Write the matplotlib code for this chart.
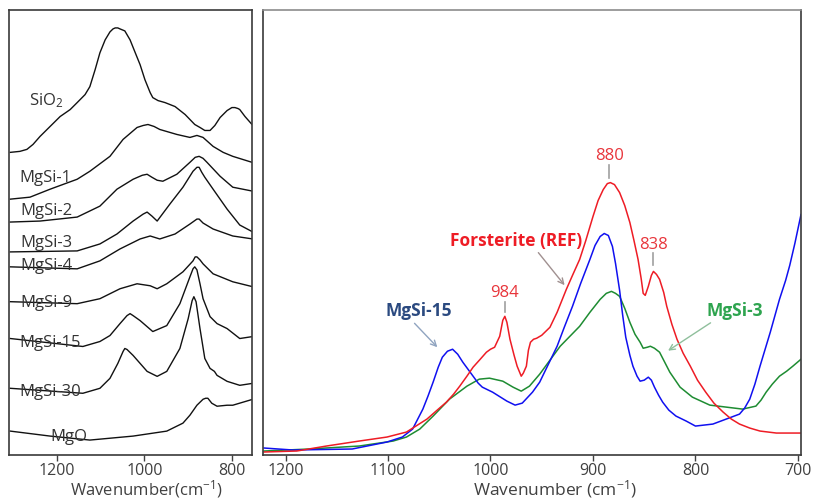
import numpy as np
import matplotlib
matplotlib.use('Agg')
import matplotlib.pyplot as plt

plt.rcParams['font.family'] = ['Open Sans', 'DejaVu Sans']
plt.rcParams['mathtext.default'] = 'regular'

# ---------------- left panel: stacked spectra (wavenumber, offset absorbance) ----------------
sio2_x = [1307, 1285, 1269, 1255, 1239, 1216, 1193, 1170, 1154, 1136, 1125, 1113, 1102, 1090, 1079,
          1072, 1067, 1061, 1056, 1045, 1033, 1022, 1010, 999, 987, 981, 969, 953, 930, 907, 885, 873,
          862, 850, 839, 827, 811, 800, 793, 786, 782, 770, 754]
sio2_y = [304, 305, 307, 312, 320, 330, 340, 347, 354, 362, 370, 387, 404, 417, 425,
          428, 429, 429, 428, 426, 417, 405, 392, 377, 364, 359, 356, 354, 350, 342, 332, 329,
          326, 326, 331, 339, 346, 349, 349, 348, 347, 340, 332]

mgsi1_x = [1307, 1262, 1216, 1154, 1125, 1079, 1049, 1017, 1003, 992, 978, 965, 926, 896, 880, 866,
           843, 820, 798, 754]
mgsi1_y = [257, 259, 267, 277, 285, 300, 317, 329, 331, 332, 330, 327, 322, 319, 321, 319,
           310, 304, 300, 294]

mgsi2_x = [1307, 1239, 1154, 1102, 1063, 1026, 1005, 994, 983, 971, 958, 926, 896, 884, 875, 866,
           857, 827, 798, 752]
mgsi2_y = [234, 235, 239, 250, 267, 277, 281, 282, 279, 276, 275, 282, 294, 299, 300, 298,
           294, 280, 269, 265]

mgsi3_x = [1307, 1154, 1102, 1063, 1026, 1003, 994, 983, 971, 942, 912, 889, 880, 875, 869, 862,
           843, 811, 782, 752]
mgsi3_y = [204, 205, 212, 222, 235, 242, 244, 240, 235, 252, 269, 285, 289, 289, 284, 279,
           267, 247, 231, 224]

mgsi4_x = [1307, 1154, 1102, 1056, 1010, 987, 965, 930, 896, 880, 875, 866, 843, 798, 752]
mgsi4_y = [189, 187, 195, 207, 217, 220, 217, 222, 232, 237, 237, 233, 227, 220, 217]

mgsi9_x = [1307, 1154, 1102, 1056, 1017, 987, 971, 949, 912, 889, 884, 880, 873, 866, 843, 798, 752]
mgsi9_y = [154, 152, 157, 167, 172, 170, 167, 172, 184, 195, 199, 199, 196, 192, 182, 174, 169]

mgsi15_x = [1307, 1141, 1102, 1079, 1056, 1040, 1033, 1026, 1010, 981, 949, 919, 896, 889, 885, 880,
            873, 866, 850, 834, 811, 782, 752]
mgsi15_y = [117, 109, 114, 120, 132, 140, 142, 140, 135, 124, 130, 152, 179, 187, 189, 186,
            172, 157, 139, 132, 127, 117, 119]

mgsi30_x = [1307, 1141, 1102, 1079, 1061, 1049, 1045, 1040, 1026, 994, 971, 949, 919, 900, 891, 887,
            882, 873, 862, 850, 840, 834, 811, 782, 752]
mgsi30_y = [67, 62, 67, 77, 92, 104, 107, 106, 100, 84, 79, 84, 107, 137, 155, 159,
            154, 127, 97, 87, 84, 80, 74, 70, 72]

mgo_x = [1307, 1216, 1125, 1026, 949, 912, 896, 880, 866, 860, 855, 846, 834, 811, 798, 752]
mgo_y = [24, 19, 15, 19, 24, 32, 40, 50, 56, 57, 57, 52, 49, 50, 50, 56]

left_series = [(sio2_x, sio2_y), (mgsi1_x, mgsi1_y), (mgsi2_x, mgsi2_y), (mgsi3_x, mgsi3_y),
               (mgsi4_x, mgsi4_y), (mgsi9_x, mgsi9_y), (mgsi15_x, mgsi15_y), (mgsi30_x, mgsi30_y),
               (mgo_x, mgo_y)]
left_labels = ['SiO$_2$', 'MgSi-1', 'MgSi-2', 'MgSi-3', 'MgSi-4', 'MgSi-9', 'MgSi-15', 'MgSi-30', 'MgO']
left_label_x = [1264, 1287, 1285, 1285, 1285, 1285, 1287, 1287, 1216]
left_label_y = [351, 274, 241, 209, 186, 149, 108, 59, 14]
left_ticks = [1200, 1000, 800]

# ---------------- right panel: overlay of three spectra ----------------
red_x = [1221, 1189, 1160, 1128, 1101, 1082, 1062, 1052, 1043, 1036, 1030, 1023, 1017, 1010, 1004,
         1000, 996, 991, 988, 986, 984, 981, 977, 974, 970, 968, 965, 963, 961, 958, 955, 950, 942,
         935, 926, 920, 913, 907, 900, 895, 890, 886, 883, 879, 874, 869, 864, 860, 856, 853, 851,
         849, 846, 843, 841, 838, 835, 831, 828, 823, 818, 812, 805, 798, 790, 782, 773, 765, 757,
         747, 737, 721, 697]
red_y = [3, 4, 9, 14, 18, 23, 36, 45, 53, 61, 69, 79, 88, 96, 103,
         106, 108, 119, 135, 139, 133, 116, 100, 89, 79, 82, 89, 105, 113, 116, 117, 120, 128,
         143, 166, 180, 196, 215, 239, 255, 266, 272, 273, 271, 263, 250, 233, 215, 196, 177, 162,
         160, 169, 180, 184, 181, 176, 163, 149, 131, 116, 102, 89, 75, 63, 52, 43, 36, 31,
         27, 24, 22, 22]

blue_x = [1221, 1193, 1135, 1101, 1086, 1076, 1066, 1061, 1056, 1051, 1047, 1042, 1037, 1032, 1027,
          1022, 1017, 1012, 1008, 998, 984, 976, 969, 959, 952, 935, 928, 920, 912, 903, 898, 893,
          889, 885, 881, 878, 874, 871, 868, 864, 861, 857, 854, 850, 846, 843, 840, 836, 832, 826,
          819, 809, 800, 783, 770, 757, 752, 747, 742, 737, 732, 727, 718, 712, 708, 703, 697]
blue_y = [7, 5, 6, 13, 18, 26, 46, 59, 73, 88, 98, 104, 106, 101, 93,
          86, 79, 72, 68, 63, 54, 50, 52, 63, 73, 109, 128, 149, 172, 196, 210, 219,
          222, 220, 209, 192, 165, 140, 118, 100, 89, 79, 74, 75, 78, 75, 68, 60, 53, 45,
          39, 34, 29, 31, 36, 41, 47, 56, 71, 89, 106, 123, 156, 175, 190, 212, 241]

green_x = [1221, 1177, 1128, 1095, 1082, 1069, 1056, 1040, 1023, 1011, 1001, 988, 978, 970, 962,
           952, 932, 913, 903, 893, 887, 882, 878, 874, 869, 864, 859, 854, 851, 847, 844, 840, 835,
           830, 825, 815, 803, 786, 770, 754, 741, 736, 731, 725, 718, 711, 705, 697]
green_y = [4, 6, 9, 14, 18, 26, 39, 56, 69, 76, 77, 74, 68, 64, 69,
           81, 109, 129, 143, 156, 162, 164, 162, 159, 147, 133, 121, 113, 107, 108, 109, 107, 103,
           93, 83, 68, 58, 50, 48, 46, 49, 55, 63, 71, 79, 84, 89, 96]

right_ticks = [1200, 1100, 1000, 900, 800, 700]

red = '#EE1C25'
blue = '#1010F0'
green = '#1E8C32'
tick_color = '#404040'

fig = plt.figure(figsize=(8.13, 5.0), dpi=100)

# left panel
ax1 = fig.add_axes([9 / 813, 45 / 500, 243 / 813, 445 / 500])
for (xs, ys) in left_series:
    ax1.plot(xs, ys, color='#111111', lw=1.0)
for lab, lx, ly in zip(left_labels, left_label_x, left_label_y):
    ax1.text(lx, ly, lab, fontsize=12, color='#333333', ha='left', va='baseline')
ax1.set_xlim(1310, 754)
ax1.set_ylim(0, 447)
ax1.set_yticks([])
ax1.set_xticks(left_ticks)
ax1.tick_params(axis='x', direction='out', length=4, width=1, colors=tick_color,
                labelsize=11.5, pad=2)
ax1.set_xlabel('Wavenumber(cm$^{-1}$)', fontsize=12, color=tick_color, va='center')
ax1.xaxis.set_label_coords(0.564, -0.077)
for sp in ax1.spines.values():
    sp.set_color('#3a3a3a')
    sp.set_linewidth(1.2)

# right panel
ax2 = fig.add_axes([263 / 813, 45 / 500, 538 / 813, 445 / 500])
ax2.plot(green_x, green_y, color=green, lw=1.1)
ax2.plot(blue_x, blue_y, color=blue, lw=1.1)
ax2.plot(red_x, red_y, color=red, lw=1.1)
ax2.set_xlim(1222, 697)
ax2.set_ylim(0, 446)
ax2.set_yticks([])
ax2.set_xticks(right_ticks)
ax2.tick_params(axis='x', direction='out', length=4, width=1, colors=tick_color,
                labelsize=11.5, pad=2)
ax2.set_xlabel('Wavenumber (cm$^{-1}$)', fontsize=12.5, color=tick_color, va='center')
ax2.xaxis.set_label_coords(0.543, -0.077)
for sp in ax2.spines.values():
    sp.set_color('#3a3a3a')
    sp.set_linewidth(1.2)
ax2.spines['top'].set_color('#8c8c8c')

# peak labels with short leader lines
peak_x = [884, 841, 986]
peak_lab = ['880', '838', '984']
peak_text_y = [296, 206, 158]
peak_line = [(278, 291), (190, 202), (143, 153)]
for px, pl, ty, (l0, l1) in zip(peak_x, peak_lab, peak_text_y, peak_line):
    ax2.text(px, ty, pl, color='#E8353B', fontsize=12, ha='center', va='baseline')
    ax2.plot([px, px], [l0, l1], color='#a0a0a0', lw=1.2)

# series labels with arrows
ax2.text(975, 209, 'Forsterite (REF)', color='#EE1C25', fontsize=12.5, fontweight='bold',
         ha='center', va='baseline')
ax2.annotate('', xy=(926, 168), xytext=(955, 205),
             arrowprops=dict(arrowstyle='->', color='#a09090', lw=1.0))
ax2.text(1070, 139, 'MgSi-15', color='#2B4A80', fontsize=12.5, fontweight='bold',
         ha='center', va='baseline')
ax2.annotate('', xy=(1050, 106), xytext=(1076, 134),
             arrowprops=dict(arrowstyle='->', color='#90a4c0', lw=1.0))
ax2.text(762, 139, 'MgSi-3', color='#2EA44F', fontsize=12.5, fontweight='bold',
         ha='center', va='baseline')
ax2.annotate('', xy=(829, 103), xytext=(783, 134),
             arrowprops=dict(arrowstyle='->', color='#8fbf9c', lw=1.0))

plt.savefig('out.png', dpi=100)
